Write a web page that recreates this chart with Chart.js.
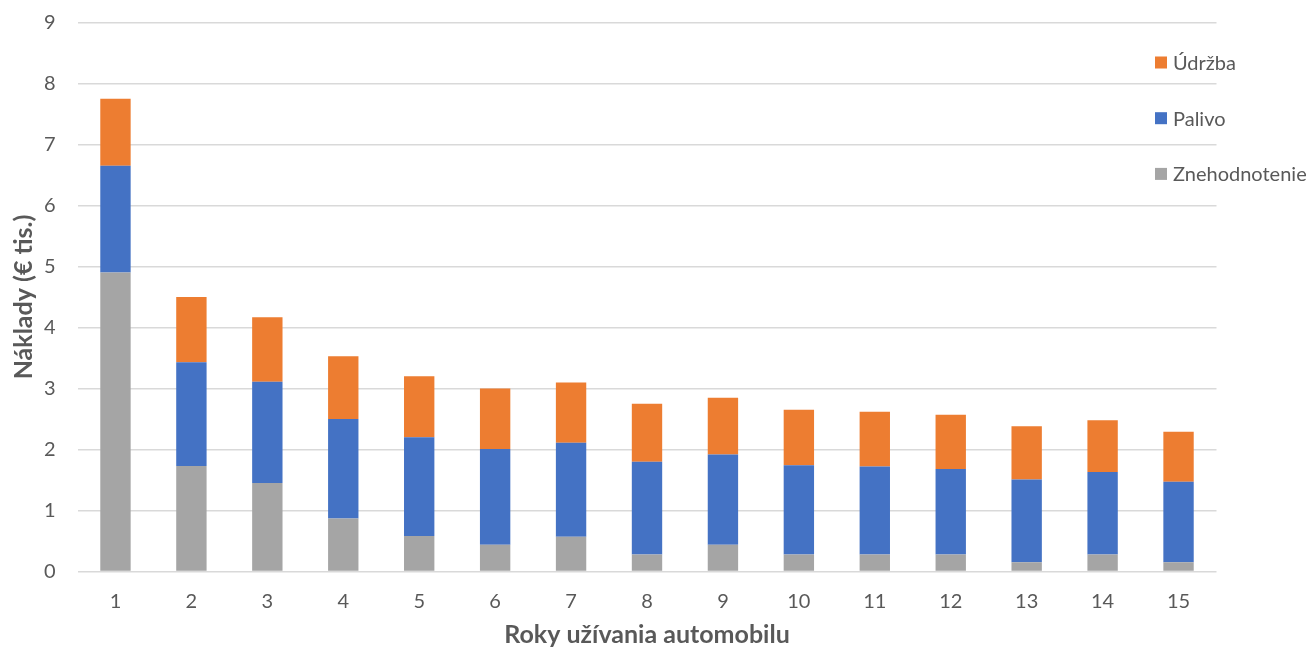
<!DOCTYPE html>
<html>
<head>
<meta charset="utf-8">
<script src="https://cdn.jsdelivr.net/npm/chart.js@4/dist/chart.umd.min.js"></script>
<style>
  html, body { margin: 0; padding: 0; background: #ffffff; }
  #wrap { width: 1314px; height: 650px; position: relative; }
</style>
</head>
<body>
<div id="wrap"><canvas id="c" width="1314" height="650"></canvas></div>
<script>
// Roky užívania automobilu
const years = ['1','2','3','4','5','6','7','8','9','10','11','12','13','14','15'];

// Náklady v tis. € podľa zložky
const znehodnotenie = [4.90, 1.73, 1.45, 0.87, 0.58, 0.44, 0.57, 0.28, 0.44, 0.28, 0.28, 0.28, 0.15, 0.28, 0.15];
const palivo        = [1.75, 1.70, 1.66, 1.63, 1.62, 1.57, 1.54, 1.52, 1.48, 1.46, 1.44, 1.40, 1.36, 1.35, 1.32];
const udrzba        = [1.10, 1.07, 1.06, 1.03, 1.00, 0.99, 0.99, 0.95, 0.93, 0.91, 0.90, 0.89, 0.87, 0.85, 0.82];

const yTicks = [0, 1, 2, 3, 4, 5, 6, 7, 8, 9];

const FONT = 'Lato, "Liberation Sans", sans-serif';
const TEXT = '#595959';

// Legenda vpravo hore, kreslená priamo do plátna (poradie zhora: Údržba, Palivo, Znehodnotenie)
const sideLegend = {
  id: 'sideLegend',
  afterDraw(chart) {
    const ctx = chart.ctx;
    const items = chart.data.datasets.slice().reverse();
    const x0 = 1155, y0 = 62.5, step = 55.7, box = 12;
    ctx.save();
    ctx.font = '20px ' + FONT;
    ctx.textBaseline = 'middle';
    ctx.textAlign = 'left';
    items.forEach((ds, i) => {
      const y = y0 + i * step;
      ctx.fillStyle = ds.backgroundColor;
      ctx.fillRect(x0, y - box / 2, box, box);
      ctx.fillStyle = TEXT;
      ctx.fillText(ds.label, x0 + 18, y + 1);
    });
    ctx.restore();
  }
};

new Chart(document.getElementById('c'), {
  type: 'bar',
  data: {
    labels: years,
    datasets: [
      { label: 'Znehodnotenie', data: znehodnotenie, backgroundColor: '#A5A5A5' },
      { label: 'Palivo',        data: palivo,        backgroundColor: '#4472C4' },
      { label: 'Údržba',        data: udrzba,        backgroundColor: '#ED7D31' }
    ]
  },
  options: {
    responsive: false,
    animation: false,
    devicePixelRatio: 1,
    layout: { padding: { left: 0, right: 97.5, top: 22.5, bottom: 0 } },
    datasets: { bar: { categoryPercentage: 1.0, barPercentage: 0.40, borderWidth: 0 } },
    plugins: {
      legend: { display: false },
      tooltip: { enabled: false }
    },
    scales: {
      x: {
        stacked: true,
        grid: { display: false, drawTicks: false },
        border: { display: false },
        ticks: { color: TEXT, font: { family: FONT, size: 20 }, padding: 18 },
        title: {
          display: true,
          text: 'Roky užívania automobilu',
          color: TEXT,
          font: { family: FONT, size: 25, weight: 'bold' },
          padding: { top: 4, bottom: 0 }
        },
        afterFit(scale) {
          scale.height = 78.5;
          scale.paddingLeft = 0;
          scale.paddingRight = 0;
        }
      },
      y: {
        stacked: true,
        min: 0,
        max: 9,
        afterBuildTicks(scale) { scale.ticks = yTicks.map(v => ({ value: v })); },
        grid: { color: '#D9D9D9', lineWidth: 1.5, drawTicks: false },
        border: { display: false },
        ticks: { color: TEXT, font: { family: FONT, size: 20 }, padding: 22 },
        title: {
          display: true,
          text: 'Náklady (€ tis.)',
          color: TEXT,
          font: { family: FONT, size: 25, weight: 'bold' },
          padding: { top: 9, bottom: 6 }
        },
        afterFit(scale) {
          scale.width = 77.5;
          scale.paddingTop = 0;
          scale.paddingBottom = 0;
        }
      }
    }
  },
  plugins: [sideLegend]
});
</script>
</body>
</html>
